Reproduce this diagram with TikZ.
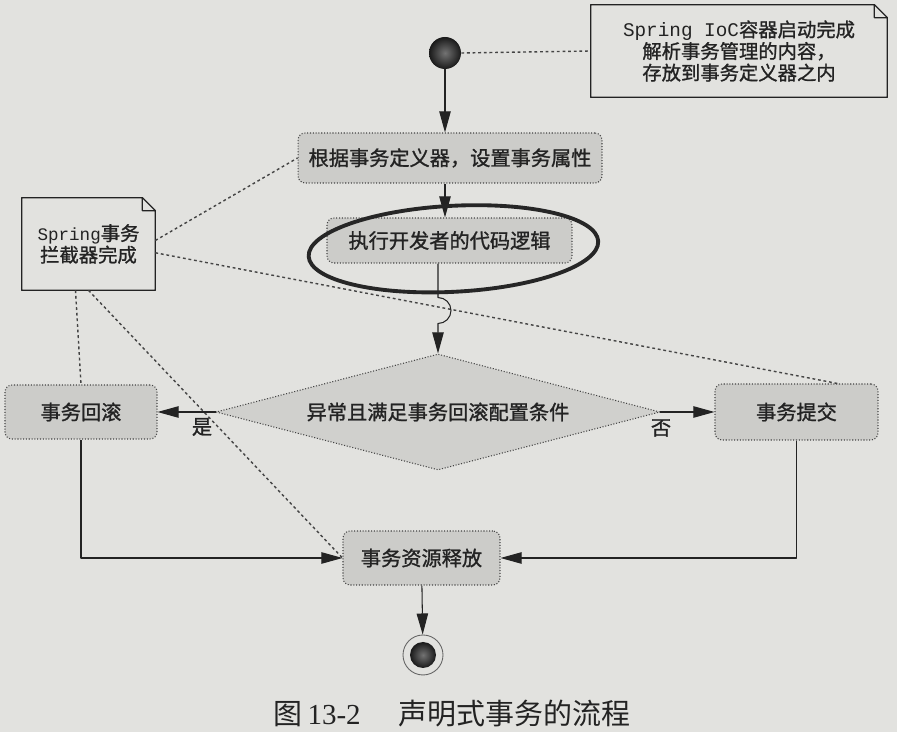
\documentclass[tikz,border=0pt]{standalone}
\usepackage{fontspec}
\setmainfont{Noto Sans CJK SC}
\newfontfamily\heavy[FakeBold=1.2]{Noto Sans CJK SC}
\newfontfamily\mono{Liberation Mono}
\newfontfamily\romannum{Liberation Serif}
\usetikzlibrary{shapes.geometric,arrows.meta,calc}
\definecolor{paper}{RGB}{226,226,223}
\definecolor{actfill}{RGB}{204,204,201}
\definecolor{ink}{RGB}{35,35,35}
\tikzset{
	act/.style={draw=ink!85, densely dotted, line width=0.6pt, fill=actfill, rounded corners=4pt,
		inner sep=0pt, text=ink, font=\heavy\fontsize{11.5}{14}\selectfont},
	choice/.style={diamond, aspect=3.83, draw=ink!85, densely dotted, line width=0.6pt,
		fill=actfill!80!paper, inner sep=0pt, minimum width=8.88cm, minimum height=2.32cm,
		text=ink, font=\heavy\fontsize{11.5}{14}\selectfont},
	notebox/.style={inner sep=0pt, align=center, text=ink, font=\heavy\fontsize{11}{12.3}\selectfont},
	flow/.style={draw=ink, line width=0.6pt, -{Triangle[length=12pt,width=6.5pt]}},
	link/.style={draw=ink!85, line width=0.8pt, dash pattern=on 1.6pt off 1.6pt},
	pen/.style={draw=black!85, line width=2.2pt},
	startdot/.style={circle, inner sep=0pt, minimum size=0.64cm, shading=radial,
		inner color=black!55, outer color=black!90},
	endring/.style={circle, draw=ink!70, line width=0.5pt, fill=paper, inner sep=0pt, minimum size=0.8cm},
	enddot/.style={circle, inner sep=0pt, minimum size=0.52cm, shading=radial,
		inner color=black!55, outer color=black!90},
	tag/.style={inner sep=0pt, text=ink, font=\heavy\fontsize{11.5}{14}\selectfont}
}
\newcommand\notefold[1]{%
	\draw[ink, line width=0.7pt] (#1.south west) -- (#1.north west) -- ([xshift=-0.26cm]#1.north east)
	-- ([yshift=-0.26cm]#1.north east) -- (#1.south east) -- cycle
	([xshift=-0.26cm]#1.north east) |- ([yshift=-0.26cm]#1.north east);}
\begin{document}
\begin{tikzpicture}[x=0.02cm, y=-0.02cm, line join=round]
	\fill[paper] (0,0) rectangle (897,732);
	\useasboundingbox (0,0) rectangle (897,732);
	\node[startdot] (start) at (445,53) {};
	\node[notebox, minimum width=5.92cm, minimum height=1.84cm] (iocnote) at (739,51)
		{{\mono Spring IoC}容器启动完成\\解析事务管理的内容，\\存放到事务定义器之内};
	\notefold{iocnote}
	\node[act, minimum width=6.08cm, minimum height=1.0cm] (setattr) at (450,158) {根据事务定义器，设置事务属性};
	\node[act, minimum width=4.9cm, minimum height=0.9cm] (devcode) at (449.5,240.5) {执行开发者的代码逻辑};
	\node[notebox, minimum width=2.66cm, minimum height=1.84cm] (txnote) at (88.5,244)
		{{\mono\fontsize{10}{12.3}\selectfont Spring}事务\\拦截器完成};
	\notefold{txnote}
	\node[choice] (cond) at (438,412) {异常且满足事务回滚配置条件};
	\node[act, minimum width=3.04cm, minimum height=1.08cm] (rollback) at (81,412) {事务回滚};
	\node[act, minimum width=3.26cm, minimum height=1.12cm] (commit) at (796.5,412) {事务提交};
	\node[act, minimum width=3.14cm, minimum height=1.08cm] (release) at (421.5,558) {事务资源释放};
	\node[endring] (end) at (423,655) {};
	\node[enddot] (endcore) at (end) {};
	\node[tag] (yes) at (202,427) {是};
	\node[tag] (no) at (661,428) {否};
	\node[inner sep=0pt, text=ink, font=\fontsize{16.5}{20}\selectfont] (caption) at (452,714)
		{图\,{\romannum 13-2}\hspace{1.3em}声明式事务的流程};
	\draw[link] (start.east) -- (iocnote.west);
	\draw[link] ([yshift=2pt]txnote.east) -- (setattr.west);
	\draw[link] ([yshift=-5pt]txnote.east) -- ($(commit.north)!0.5!(commit.north east)$);
	\draw[link] ([xshift=-0.26cm]txnote.south) -- (rollback.north);
	\draw[link] (txnote.south) -- (release.west);
	\draw[flow] (start) -- (start |- setattr.north);
	\draw[flow] (start |- setattr.south) -- (start |- devcode.north);
	\draw[flow] (cond.north |- devcode.south) -- ++(0,34) arc[start angle=90, end angle=-90, radius=0.26cm] -- (cond.north);
	\draw[flow] (cond.west) -- (rollback.east);
	\draw[flow] (cond.east) -- (commit.west);
	\draw[flow] (rollback.south) |- (release.west);
	\draw[flow] (commit.south) |- (release.east);
	\draw[flow] (release) -- (end);
	\draw[pen, rotate around={3:(devcode.center)}] ([shift={(3.5,8.5)}]devcode.center)
		ellipse [x radius=2.9cm, y radius=0.86cm];
\end{tikzpicture}
\end{document}
